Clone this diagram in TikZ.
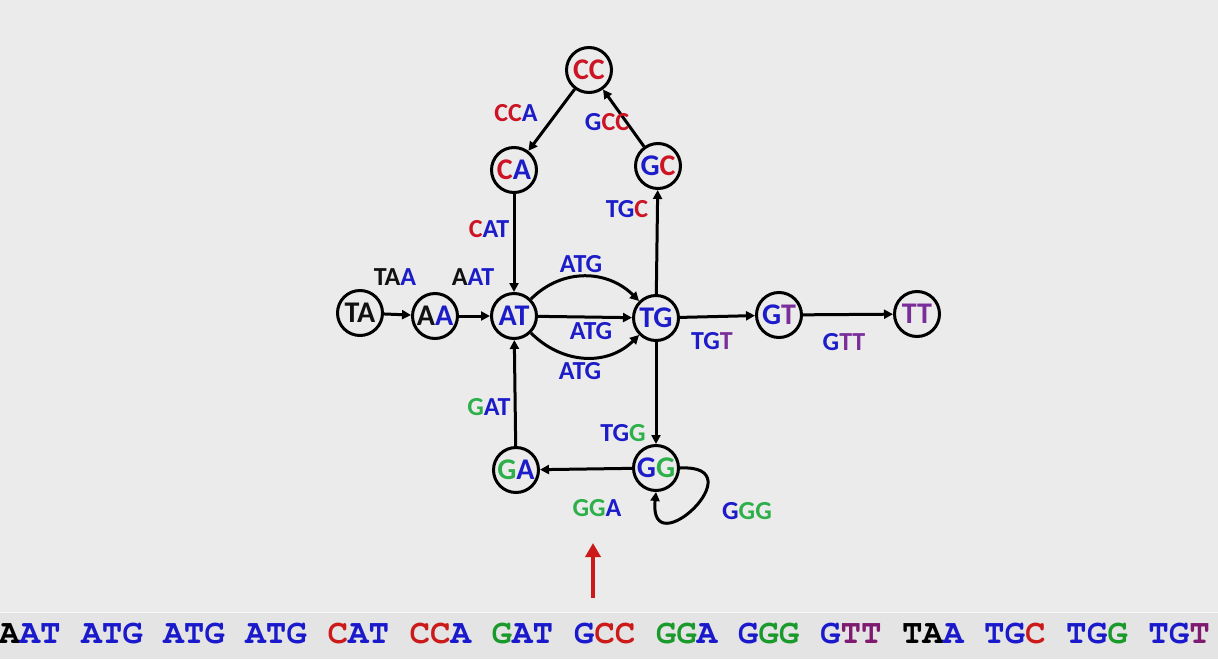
\documentclass[tikz,border=0pt]{standalone}
\usepackage{fontspec}
\setmainfont{Carlito}
\newfontfamily\monof{TeX Gyre Cursor}
\usetikzlibrary{arrows.meta}
\definecolor{bgc}{HTML}{EBEBEB}
\definecolor{stripc}{HTML}{E4E4E4}
\definecolor{dblue}{HTML}{1C1CC8}
\definecolor{dred}{HTML}{CC1424}
\definecolor{dgreen}{HTML}{2DB04A}
\definecolor{dpurple}{HTML}{7A2E9A}
\definecolor{dblack}{HTML}{111111}
\definecolor{sblue}{HTML}{1A1ACC}
\definecolor{sred}{HTML}{CC1A1A}
\definecolor{sgreen}{HTML}{1A9A2A}
\definecolor{spurple}{HTML}{801A70}
\newcommand\xB[1]{\textcolor{dblue}{#1}}
\newcommand\xR[1]{\textcolor{dred}{#1}}
\newcommand\xG[1]{\textcolor{dgreen}{#1}}
\newcommand\xP[1]{\textcolor{dpurple}{#1}}
\newcommand\xK[1]{\textcolor{dblack}{#1}}
\newcommand\sB[1]{\textcolor{sblue}{#1}}
\newcommand\sR[1]{\textcolor{sred}{#1}}
\newcommand\sG[1]{\textcolor{sgreen}{#1}}
\newcommand\sP[1]{\textcolor{spurple}{#1}}
\newcommand\sK[1]{\textcolor{black}{#1}}
\begin{document}
\begin{tikzpicture}[x=1pt,y=-1pt,
 kmer/.style={circle,draw=black,line width=3pt,minimum size=45pt,inner sep=0pt,font=\fontsize{30}{30}\selectfont\bfseries},
 elab/.style={font=\fontsize{26}{26}\selectfont\bfseries,inner sep=0pt},
 arr/.style={line width=3pt,-{Triangle[length=9pt,width=9pt]}}
]
\useasboundingbox (0,0) rectangle (1218,659);
\fill[bgc] (0,0) rectangle (1218,659);
\fill[stripc] (0,612) rectangle (1218,659);
\draw[white!60!bgc,line width=1pt] (0,612) -- (1218,612);

% nodes
\node[kmer] (TA) at (360,313) {\xK{TA}};
\node[kmer] (AA) at (435,316) {\xK{A}\xB{A}};
\node[kmer] (AT) at (514,316) {\xB{AT}};
\node[kmer] (TG) at (656,318) {\xB{TG}};
\node[kmer] (GT) at (779,315) {\xB{G}\xP{T}};
\node[kmer] (TT) at (917,314) {\xP{TT}};
\node[kmer] (CC) at (589,70) {\xR{CC}};
\node[kmer] (CA) at (514,170) {\xR{C}\xB{A}};
\node[kmer] (GC) at (658,166) {\xB{G}\xR{C}};
\node[kmer] (GA) at (516,470) {\xG{G}\xB{A}};
\node[kmer] (GG) at (656,468) {\xB{G}\xG{G}};

% edges
\draw[arr] (TA) -- (AA);
\draw[arr] (AA) -- (AT);
\draw[arr] (AT) -- (TG);
\draw[arr] (AT) to[out=45,in=135,looseness=1.05] (TG);
\draw[arr] (AT) to[out=-45,in=-135,looseness=1.05] (TG);
\draw[arr] (CC) -- (CA);
\draw[arr] (GC) -- (CC);
\draw[arr] (TG) -- (GC);
\draw[arr] (CA) -- (AT);
\draw[arr] (GA) -- (AT);
\draw[arr] (TG) -- (GG);
\draw[arr] (GG) -- (GA);
\draw[arr] (GT) -- (TT);
\draw[arr] (TG) -- (GT);
\draw[arr] (GG.east) .. controls +(78,-4) and +(-8,76) .. (GG.south);

% edge labels
\node[elab] (lTAA) at (395,277) {\xK{TA}\xB{A}};
\node[elab] (lAAT) at (473,277) {\xK{A}\xB{AT}};
\node[elab] (lATG1) at (581,264) {\xB{ATG}};
\node[elab] (lATG2) at (591,331) {\xB{ATG}};
\node[elab] (lATG3) at (580,371) {\xB{ATG}};
\node[elab] (lCCA) at (516,113) {\xR{CC}\xB{A}};
\node[elab] (lGCC) at (607,122) {\xB{G}\xR{CC}};
\node[elab] (lCAT) at (489,229) {\xR{C}\xB{AT}};
\node[elab] (lTGC) at (627,209) {\xB{TG}\xR{C}};
\node[elab] (lTGT) at (712,341) {\xB{TG}\xP{T}};
\node[elab] (lGTT) at (844,342) {\xB{G}\xP{TT}};
\node[elab] (lGAT) at (489,407) {\xG{G}\xB{AT}};
\node[elab] (lTGG) at (623,433) {\xB{TG}\xG{G}};
\node[elab] (lGGA) at (597,508) {\xG{GG}\xB{A}};
\node[elab] (lGGG) at (747,511) {\xB{G}\xG{GG}};

% red pointer
\coordinate (pb) at (593,598);
\coordinate (pt) at (593,543);
\draw[sred,line width=4pt,-{Triangle[length=14pt,width=15pt]}] (pb) -- (pt);

% sequence strip
\node[anchor=west,inner sep=0pt,font=\monof\bfseries\fontsize{34.2}{34}\selectfont] (seq) at (-1,634)
{\sK{A}\sB{AT} \sB{ATG} \sB{ATG} \sB{ATG} \sR{C}\sB{AT} \sR{CC}\sB{A} \sG{G}\sB{AT} \sB{G}\sR{CC} \sG{GG}\sB{A} \sB{G}\sG{GG} \sB{G}\sP{TT} \sK{TA}\sB{A} \sB{TG}\sR{C} \sB{TG}\sG{G} \sB{TG}\sP{T}};
\end{tikzpicture}
\end{document}
